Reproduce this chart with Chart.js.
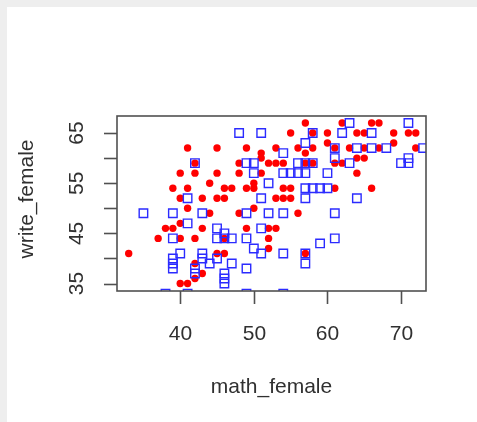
<!DOCTYPE html>
<html lang="en">
<head>
    <meta charset="UTF-8">
    <title>write_female vs math_female</title>
    <script src="https://cdn.jsdelivr.net/npm/chart.js"></script>
    <style>
        * {
            margin: 0;
            padding: 0;
            box-sizing: border-box;
        }

        body {
            background: #ffffff;
            width: 477px;
            height: 422px;
            overflow: hidden;
        }

        canvas {
            display: block;
        }
    </style>
</head>
<body>
    <canvas id="scatter" width="477" height="422"></canvas>

    <script>
        // red group (filled dots) - [math, write]
        const redMath = [33, 37, 38, 39, 39, 40, 40, 40, 40, 40, 41, 41, 41, 41, 42, 42, 42, 42, 42,
            43, 43, 43, 44, 44, 45, 45, 45, 45, 46, 46, 46, 46, 47, 48, 48, 48, 49, 49, 49,
            50, 50, 50, 51, 51, 51, 52, 52, 52, 52, 53, 53, 53, 53, 54, 54, 54, 55, 55, 55,
            56, 56, 57, 57, 57, 57, 58, 58, 58, 60, 60, 61, 61, 61, 62, 62, 63, 64, 64, 64,
            65, 65, 65, 66, 66, 67, 67, 69, 69, 71, 72, 72];
        const redWrite = [41, 44, 46, 46, 54, 57, 52, 47, 44, 35, 62, 54, 50, 35, 59, 57, 44, 39, 36,
            52, 46, 37, 55, 49, 62, 57, 52, 41, 54, 52, 44, 41, 54, 59, 57, 49, 62, 54, 46,
            55, 54, 50, 61, 60, 57, 59, 46, 44, 42, 62, 59, 52, 46, 59, 54, 52, 65, 54, 52,
            62, 49, 67, 61, 59, 41, 65, 62, 59, 65, 63, 62, 59, 54, 67, 59, 62, 60, 57, 65,
            65, 62, 60, 67, 54, 67, 62, 65, 63, 65, 65, 62];

        // blue group (open squares)
        const blueMath = [35, 38, 39, 39, 39, 39, 39, 40, 41, 41, 41, 42, 42, 42, 43, 43, 43, 44,
            45, 45, 45, 46, 46, 46, 46, 46, 47, 47, 48, 49, 49, 49, 49, 49, 50, 50, 50,
            51, 51, 51, 51, 52, 52, 54, 54, 54, 54, 54, 55, 56, 56, 57, 57, 57, 57, 57, 57, 57,
            58, 58, 58, 59, 59, 60, 60, 61, 61, 61, 61, 62, 63, 63, 64, 64, 66, 66, 68,
            70, 71, 71, 71, 73];
        const blueWrite = [49, 33, 49, 44, 40, 39, 38, 41, 52, 47, 33, 59, 38, 37, 49, 41, 40, 39,
            46, 44, 40, 45, 44, 37, 36, 35, 44, 39, 65, 59, 49, 44, 38, 33, 59, 57, 42,
            65, 52, 46, 41, 55, 49, 61, 57, 49, 41, 33, 57, 59, 57, 63, 59, 57, 54, 52, 41, 39,
            65, 59, 54, 54, 43, 57, 54, 62, 60, 49, 44, 65, 67, 59, 62, 52, 65, 62, 62,
            59, 67, 60, 59, 62];

        const xTicks = [40, 50, 60, 70];
        const yTicks = [35, 40, 45, 50, 55, 60, 65];
        const yTickLabels = [35, 45, 55, 65];
        const xTitle = 'math_female';
        const yTitle = 'write_female';

        const toPoints = (xs, ys) => xs.map((x, i) => ({ x: x, y: ys[i] }));

        const FONT = '21px "Liberation Sans", Arial, sans-serif';
        const TEXT = '#303030';
        const AXIS = '#505050';

        // R-style box, ticks and labels drawn from the chart's own scales
        const rAxes = {
            id: 'rAxes',
            beforeDraw(chart) {
                const ctx = chart.ctx;
                ctx.save();
                ctx.fillStyle = '#eeeeee';
                ctx.fillRect(0, 0, chart.width, 7);
                ctx.fillRect(0, 0, 7, chart.height);
                ctx.restore();
            },
            afterDraw(chart) {
                const ctx = chart.ctx;
                const a = chart.chartArea;
                const xs = chart.scales.x;
                const ys = chart.scales.y;
                ctx.save();
                ctx.strokeStyle = AXIS;
                ctx.lineWidth = 1.6;
                ctx.strokeRect(a.left, a.top, a.right - a.left, a.bottom - a.top);

                ctx.fillStyle = TEXT;
                ctx.font = FONT;

                // x axis
                ctx.textAlign = 'center';
                ctx.textBaseline = 'alphabetic';
                xTicks.forEach(v => {
                    const px = Math.round(xs.getPixelForValue(v)) + 0.5;
                    ctx.beginPath();
                    ctx.moveTo(px, a.bottom);
                    ctx.lineTo(px, a.bottom + 13);
                    ctx.stroke();
                    ctx.fillText(String(v), px, 340);
                });
                ctx.fillText(xTitle, (a.left + a.right) / 2, 393);

                // y axis
                yTicks.forEach(v => {
                    const py = Math.round(ys.getPixelForValue(v)) + 0.5;
                    ctx.beginPath();
                    ctx.moveTo(a.left - 13, py);
                    ctx.lineTo(a.left, py);
                    ctx.stroke();
                });
                yTickLabels.forEach(v => {
                    const py = ys.getPixelForValue(v);
                    ctx.save();
                    ctx.translate(83, py);
                    ctx.rotate(-Math.PI / 2);
                    ctx.fillText(String(v), 0, 0);
                    ctx.restore();
                });
                ctx.save();
                ctx.translate(33, 199);
                ctx.rotate(-Math.PI / 2);
                ctx.fillText(yTitle, 0, 0);
                ctx.restore();

                ctx.restore();
            }
        };

        new Chart(document.getElementById('scatter'), {
            type: 'scatter',
            data: {
                datasets: [{
                    label: 'red',
                    data: toPoints(redMath, redWrite),
                    pointStyle: 'circle',
                    pointRadius: 3.7,
                    pointBorderWidth: 0,
                    backgroundColor: '#ff0000',
                    borderColor: '#ff0000',
                    clip: 0,
                    order: 1
                },
                {
                    label: 'blue',
                    data: toPoints(blueMath, blueWrite),
                    pointStyle: 'rect',
                    pointRadius: 6,
                    pointBorderWidth: 1.4,
                    backgroundColor: 'rgba(0,0,0,0)',
                    borderColor: '#2b2bff',
                    clip: 0,
                    order: 0
                }]
            },
            options: {
                responsive: false,
                animation: false,
                events: [],
                layout: {
                    padding: { left: 117, top: 116, right: 51, bottom: 131 }
                },
                plugins: {
                    legend: { display: false },
                    tooltip: { enabled: false }
                },
                scales: {
                    x: { type: 'linear', min: 31.41, max: 73.39, display: false },
                    y: { type: 'linear', min: 33.52, max: 68.39, display: false }
                }
            },
            plugins: [rAxes]
        });
    </script>
</body>
</html>
